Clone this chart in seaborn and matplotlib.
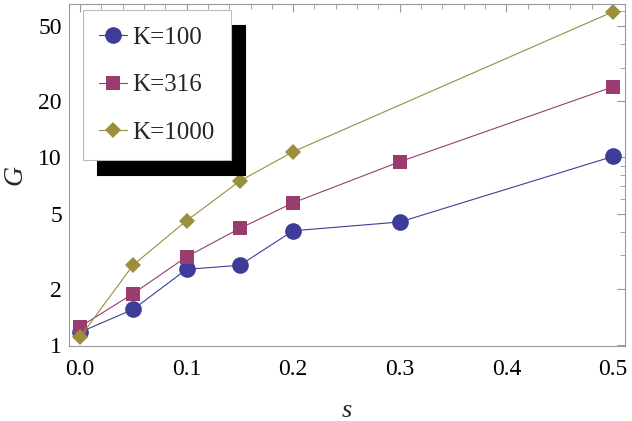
import numpy as np
import pandas as pd
import seaborn as sns
import matplotlib.pyplot as plt
from matplotlib.ticker import FixedLocator, MultipleLocator, NullFormatter

# growth factor G vs selection s, for three population sizes
s_100 = [0.0, 0.05, 0.1, 0.15, 0.2, 0.3, 0.5]
g_100 = [1.17, 1.55, 2.53, 2.66, 4.06, 4.52, 10.1]

s_316 = [0.0, 0.05, 0.1, 0.15, 0.2, 0.3, 0.5]
g_316 = [1.25, 1.88, 2.95, 4.18, 5.72, 9.46, 23.7]

s_1000 = [0.0, 0.05, 0.1, 0.15, 0.2, 0.5]
g_1000 = [1.10, 2.67, 4.59, 7.47, 10.7, 59.5]

labels = ["K=100", "K=316", "K=1000"]
colors = ["#3d3d99", "#993d71", "#998f3d"]
markers = ["o", "s", "D"]
msizes = [12, 10, 8.5]

sns.set_style("white")
plt.rcParams['font.family'] = ['Liberation Serif', 'DejaVu Serif']

fig = plt.figure(figsize=(6.32, 4.21), dpi=100)
ax = fig.add_axes([0.109, 0.178, 0.880, 0.8125])

series = [(s_100, g_100), (s_316, g_316), (s_1000, g_1000)]
for (xs, ys), lab, c, m, ms in zip(series, labels, colors, markers, msizes):
    df = pd.DataFrame({"s": xs, "G": ys})
    sns.lineplot(data=df, x="s", y="G", ax=ax, color=c, marker=m, markersize=ms,
                 markeredgewidth=0, linewidth=0.8, label=lab, errorbar=None)

ax.set_yscale("log")
ax.set_xlim(-0.0103, 0.5112)
ax.set_ylim(0.988, 65.4)

ax.xaxis.set_major_locator(MultipleLocator(0.1))
ax.xaxis.set_minor_locator(MultipleLocator(0.02))
ax.xaxis.set_major_formatter(plt.FuncFormatter(lambda v, p: f"{v:.1f}"))

major_y = [1, 2, 5, 10, 20, 50]
minor_y = [3, 4, 6, 7, 8, 9, 30, 40, 60]
ax.yaxis.set_major_locator(FixedLocator(major_y))
ax.yaxis.set_minor_locator(FixedLocator(minor_y))
ax.yaxis.set_major_formatter(plt.FuncFormatter(lambda v, p: f"{v:g}"))
ax.yaxis.set_minor_formatter(NullFormatter())

ax.tick_params(which="both", direction="in", top=True, right=True, color="#999999",
               labelsize=17, labelcolor="black")
ax.tick_params(axis="x", which="major", pad=9)
ax.tick_params(axis="y", which="major", pad=5)
ax.tick_params(which="major", length=6, width=0.8)
ax.tick_params(which="minor", length=3.5, width=0.6)
for sp in ax.spines.values():
    sp.set_color("#999999")
    sp.set_linewidth(0.8)

ax.set_xlabel("s", fontsize=19, style="italic", labelpad=15)
ax.set_ylabel("G", fontsize=20, style="italic", labelpad=8)

leg = ax.legend(loc="upper left", bbox_to_anchor=(14 / 556, 1 - 6 / 342), borderaxespad=0,
                fontsize=18, frameon=True, fancybox=False, framealpha=1, edgecolor="#bbbbbb",
                shadow={"ox": 10.5, "oy": -10.5, "color": "black", "alpha": 1},
                handlelength=1.1, labelspacing=1.0, borderpad=0.65,
                handletextpad=0.22)
leg.get_frame().set_linewidth(0.8)

fig.savefig("out.png", dpi=100)
